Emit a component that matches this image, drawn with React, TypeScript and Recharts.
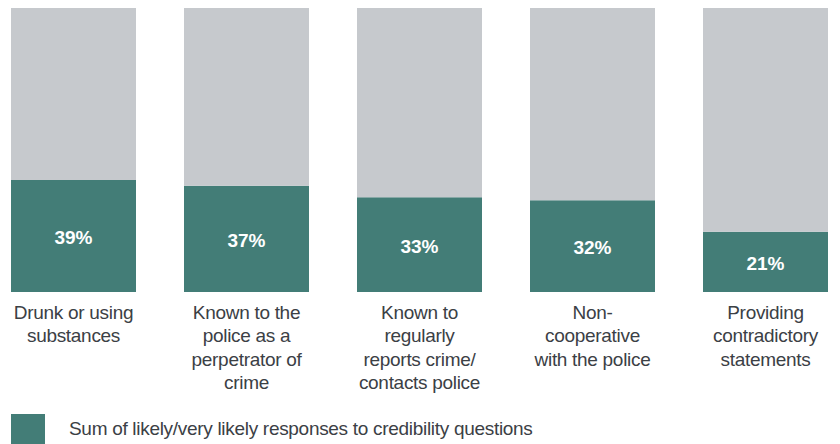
import { BarChart, Bar, XAxis, YAxis, Legend, LabelList } from 'recharts';

// category labels, split the way they wrap under each bar
const categoryLines = [
  ['Drunk or using', 'substances'],
  ['Known to the', 'police as a', 'perpetrator of', 'crime'],
  ['Known to', 'regularly', 'reports crime/', 'contacts police'],
  ['Non-', 'cooperative', 'with the police'],
  ['Providing', 'contradictory', 'statements'],
];
const likelyValues = [39, 37, 33, 32, 21];
const seriesName = 'Sum of likely/very likely responses to credibility questions';

const GREEN = '#437d77';
const GREY = '#c6c9cd';
const TEXT = '#3b4045';
const FONT = '"Liberation Sans", Arial, sans-serif';

const chartData = categoryLines.map((lines, i) => ({
  category: lines.join(' '),
  likely: likelyValues[i],
  rest: 100 - likelyValues[i],
}));

const CategoryTick = ({ x, y, payload }: any) => {
  const lines = categoryLines[payload.index] || [payload.value];
  return (
    <text x={x} y={y} textAnchor="middle" fill={TEXT} fontSize={19} fontFamily={FONT} letterSpacing={-0.3}>
      {lines.map((line: string, i: number) => (
        <tspan key={i} x={x} dy={i === 0 ? 19 : 23.3}>{line}</tspan>
      ))}
    </text>
  );
};

const ValueLabel = ({ x, y, width, height, value }: any) => (
  <text
    x={x + width / 2}
    y={y + height / 2 + 3}
    textAnchor="middle"
    dominantBaseline="middle"
    fill="#ffffff"
    fontSize={19}
    fontWeight="bold"
    fontFamily={FONT}
  >
    {value}%
  </text>
);

const LegendContent = () => (
  <div style={{ display: 'flex', alignItems: 'center', height: 30, fontFamily: FONT }}>
    <div style={{ width: 34, height: 30, flexShrink: 0, background: GREEN, marginLeft: 3 }} />
    <span style={{ marginLeft: 24, fontSize: 19, color: TEXT, letterSpacing: -0.3, whiteSpace: 'nowrap' }}>
      {seriesName}
    </span>
  </div>
);

export default function App() {
  return (
    <div style={{ marginTop: -3 }}>
      <BarChart
        width={832}
        height={439}
        data={chartData}
        margin={{ top: 0, left: -21, right: -12, bottom: 0 }}
      >
        <XAxis
          dataKey="category"
          axisLine={false}
          tickLine={false}
          interval={0}
          height={122}
          tick={<CategoryTick />}
        />
        <YAxis hide domain={[0, 100]} />
        <Legend
          verticalAlign="bottom"
          align="left"
          height={30}
          wrapperStyle={{ left: 0, width: 832 }}
          content={<LegendContent />}
        />
        <Bar dataKey="likely" name={seriesName} stackId="a" fill={GREEN} barSize={125} isAnimationActive={false}>
          <LabelList dataKey="likely" content={<ValueLabel />} />
        </Bar>
        <Bar dataKey="rest" stackId="a" fill={GREY} barSize={125} isAnimationActive={false} legendType="none" />
      </BarChart>
    </div>
  );
}
